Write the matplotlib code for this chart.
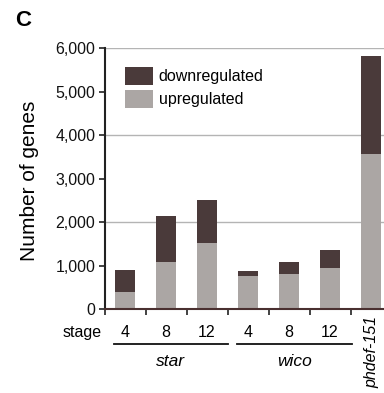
import matplotlib
matplotlib.use("Agg")
import matplotlib.pyplot as plt
from matplotlib.ticker import FuncFormatter, FixedLocator

plt.rcParams['font.family'] = ['Liberation Sans', 'DejaVu Sans']

stages = ["4", "8", "12", "4", "8", "12"]
groups = ["star", "wico"]
extra_label = "phdef-151"
up = [397, 1086, 1529, 765, 817, 948, 3566]
total = [902, 2142, 2517, 879, 1086, 1362, 5816]
down = [t - u for t, u in zip(total, up)]

dark = "#4a3a3a"
light = "#aba6a4"

W, H = 384, 393
fig = plt.figure(figsize=(W / 100, H / 100), dpi=100)
ax = fig.add_axes([104.5 / W, 83.7 / H, 287 / W, 261.3 / H])

x = list(range(len(up)))
ax.bar(x, up, width=0.5, color=light, label="upregulated", zorder=2)
ax.bar(x, down, width=0.5, bottom=up, color=dark, label="downregulated", zorder=2)

ax.set_xlim(-0.5, 6.5)
ax.set_ylim(0, 6000)
ax.set_yticks([0, 1000, 2000, 3000, 4000, 5000, 6000])
ax.yaxis.set_major_formatter(FuncFormatter(lambda v, p: f"{int(v):,}"))
for g in [2000, 4000, 6000]:
    ax.axhline(g, color="#b4b4b4", lw=1.0, zorder=1)

ax.xaxis.set_major_locator(FixedLocator([i - 0.5 for i in range(7)]))
ax.set_xticklabels([])
ax.tick_params(axis="x", direction="out", length=4, width=1.2, color="#222222")
ax.tick_params(axis="y", direction="out", length=4, width=1.2, color="#222222",
               labelsize=11.5, pad=2.5, labelcolor="#111111")

for s in ["top", "right"]:
    ax.spines[s].set_visible(False)
ax.spines["left"].set_linewidth(1.5)
ax.spines["left"].set_color("#222222")
ax.spines["bottom"].set_linewidth(1.5)
ax.spines["bottom"].set_color("#4a3030")

tr = ax.get_xaxis_transform()
fs = 11.5
ax.text(-0.56, -0.087, "stage", transform=tr, ha="right", va="center", fontsize=fs)
for i, s in enumerate(stages):
    ax.text(i, -0.087, s, transform=tr, ha="center", va="center", fontsize=fs)

spans = [(-0.27, 2.51), (2.73, 5.54)]
for (a, b), g in zip(spans, groups):
    ax.plot([a, b], [-0.133, -0.133], transform=tr, color="#111111", lw=1.3, clip_on=False)
    ax.text((a + b) / 2, -0.2, g, transform=tr, ha="center", va="center",
            fontsize=fs + 1, style="italic")
ax.text(6.02, -0.025, extra_label, transform=tr, ha="center", va="top",
        rotation=90, fontsize=fs, style="italic")

fig.text(30 / W, (H - 181) / H, "Number of genes", rotation=90, ha="center",
         va="center", fontsize=15)
fig.text(15 / W, (H - 26) / H, "C", fontsize=16, fontweight="bold", ha="left",
         va="baseline")

handles, labels = ax.get_legend_handles_labels()
leg = ax.legend(handles[::-1], labels[::-1], loc="upper left",
                bbox_to_anchor=(125 / W, (H - 67) / H), bbox_transform=fig.transFigure,
                frameon=False, fontsize=fs, borderpad=0, borderaxespad=0,
                handlelength=1.75, handleheight=1.35, handletextpad=0.35,
                labelspacing=0.3)

fig.savefig("out.png", dpi=100)
